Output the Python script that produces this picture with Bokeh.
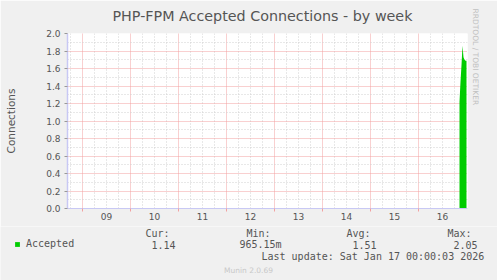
from bokeh.plotting import figure
from bokeh.layouts import column
from bokeh.models import (LinearAxis, Grid, FixedTicker, Range1d, Legend, Title,
                          LegendItem, PrintfTickFormatter)
from bokeh.core.properties import value
from bokeh.embed import file_html
from bokeh.resources import INLINE

# ---- data ----
day_labels = ["09", "10", "11", "12", "13", "14", "15", "16"]
day_start_hours = [0, 24, 48, 72, 96, 120, 144, 168]          # midnight of each day (hours since Jan 9)
y_ticks = [0.0, 0.2, 0.4, 0.6, 0.8, 1.0, 1.2, 1.4, 1.6, 1.8, 2.0]
spike_hours = [188.5, 189.0, 189.5, 190.0, 190.5, 191.0, 191.5, 192.0]
spike_values = [1.22, 1.45, 1.64, 1.86, 1.73, 1.70, 1.69, 1.69]
series_name = "Accepted"
stat_names = ["Cur:", "Min:", "Avg:", "Max:"]
stat_values = ["1.14", "965.15m", "1.51", "2.05"]
last_update = "Last update: Sat Jan 17 00:00:03 2026"

W = 497
H1, H2 = 226, 54
FL, FR, FT, FB = 67, 467, 33, 208      # frame edges in pixels
X0, X1 = -7.5, 192.5
Y0, Y1 = 0.0, 2.0

GREEN = "#00CC00"
TXT = "#555555"
AXIS = "#C8C8F4"
RED = "#F2A0A0"
GRAY = "#D0D0D0"
BG = "#F0F0F0"

p = figure(width=W, height=H1, output_backend="svg", toolbar_location=None,
           x_axis_type=None, y_axis_type=None,
           x_range=Range1d(X0, X1), y_range=Range1d(Y0, Y1),
           min_border_left=FL, min_border_right=W - FR,
           min_border_top=FT, min_border_bottom=H1 - FB)
p.background_fill_color = "white"
p.border_fill_color = BG
p.outline_line_color = None

p.title.text = "PHP-FPM Accepted Connections - by week"
p.title.align = "left"
p.title.text_font = "DejaVu Sans"
p.title.text_font_size = "14.3px"
p.title.text_font_style = "normal"
p.title.text_color = TXT
p.title.offset = 45
p.title.vertical_align = "top"
p.title.standoff = 15

# grids
noon_hours = [h + 12 for h in day_start_hours]
six_hours = [h for h in range(-6, 193, 6) if h % 24 != 0]
minor_y = [round(v + 0.1, 2) for v in y_ticks[:-1]]

xgrid = Grid(dimension=0, ticker=FixedTicker(ticks=day_start_hours, minor_ticks=six_hours),
             grid_line_color=RED, grid_line_dash="1 1", grid_line_width=1,
             minor_grid_line_color=GRAY, minor_grid_line_dash="1 2")
ygrid = Grid(dimension=1, ticker=FixedTicker(ticks=y_ticks, minor_ticks=minor_y),
             grid_line_color=RED, grid_line_dash="1 1", grid_line_width=1,
             minor_grid_line_color=GRAY, minor_grid_line_dash="1 2")
p.add_layout(xgrid)
p.add_layout(ygrid)

# data
area = p.varea(x=spike_hours, y1=[0] * len(spike_values), y2=spike_values, fill_color=GREEN)

# axes
xaxis = LinearAxis(ticker=FixedTicker(ticks=noon_hours, minor_ticks=day_start_hours),
                   major_label_overrides={h: l for h, l in zip(noon_hours, day_labels)},
                   axis_line_color=AXIS, major_tick_line_color=None,
                   major_tick_out=0, major_tick_in=0,
                   minor_tick_line_color=RED, minor_tick_out=3, minor_tick_in=0,
                   major_label_standoff=1,
                   major_label_text_font="DejaVu Sans", major_label_text_font_size="9px",
                   major_label_text_color=TXT)
yaxis = LinearAxis(ticker=FixedTicker(ticks=y_ticks, minor_ticks=[]),
                   formatter=PrintfTickFormatter(format="%.1f"),
                   axis_line_color=AXIS, axis_line_width=1.5, major_tick_line_color="#999999",
                   major_tick_out=3, major_tick_in=0,
                   major_label_standoff=4,
                   major_label_text_font="DejaVu Sans", major_label_text_font_size="9px",
                   major_label_text_color=TXT,
                   axis_label="Connections", axis_label_standoff=26,
                   axis_label_text_font="DejaVu Sans", axis_label_text_font_size="10.5px",
                   axis_label_text_font_style="normal", axis_label_text_color=TXT)
p.add_layout(xaxis, "below")
p.add_layout(yaxis, "left")

p.add_layout(Title(text="RRDTOOL / TOBI OETIKER", align="left", offset=-25, standoff=2,
                   vertical_align="top",
                   text_font="DejaVu Sans", text_font_size="7.5px", text_font_style="normal",
                   text_color="#C0C0C0"), "right")

# ---- legend / statistics strip ----
p2 = figure(width=W, height=H2, output_backend="svg", toolbar_location=None,
            x_axis_type=None, y_axis_type=None, title=None,
            x_range=Range1d(0, W), y_range=Range1d(H1 + H2, H1),
            min_border=0)
if "frame_align" in p2.properties():
    p2.frame_align = False
p2.background_fill_color = BG
p2.border_fill_color = BG
p2.outline_line_color = None
p2.xgrid.visible = False
p2.ygrid.visible = False

# proxy renderer (outside the visible range) that gives the legend its swatch
proxy = p2.varea(x=[-20, -10], y1=[0, 0], y2=[1, 1], fill_color=GREEN)
legend = Legend(items=[LegendItem(label=series_name, renderers=[proxy])],
                location=(14, 31), glyph_width=6, glyph_height=6,
                label_text_font="DejaVu Sans Mono", label_text_font_size="10px",
                label_text_color=TXT, label_standoff=6, padding=0, margin=0,
                background_fill_alpha=0, border_line_color=None, label_height=10)
p2.add_layout(legend)

MONO = dict(text_font=value("DejaVu Sans Mono"), text_font_size="10px", text_color=TXT,
            text_baseline="middle", text_align="left")
p2.text(x=[145, 246, 346, 447], y=[233] * 4, text=stat_names, **MONO)
p2.text(x=[151, 239, 352, 453], y=[244] * 4, text=stat_values, **MONO)
p2.text(x=[261], y=[256], text=[last_update], **MONO)
p2.text(x=[248], y=[270], text=["Munin 2.0.69"], text_font=value("DejaVu Sans"),
        text_font_size="7.5px", text_color="#C8C8C8", text_align="center",
        text_baseline="middle")

layout = column(p, p2, spacing=0)
open("out.html", "w").write(file_html(layout, INLINE))
